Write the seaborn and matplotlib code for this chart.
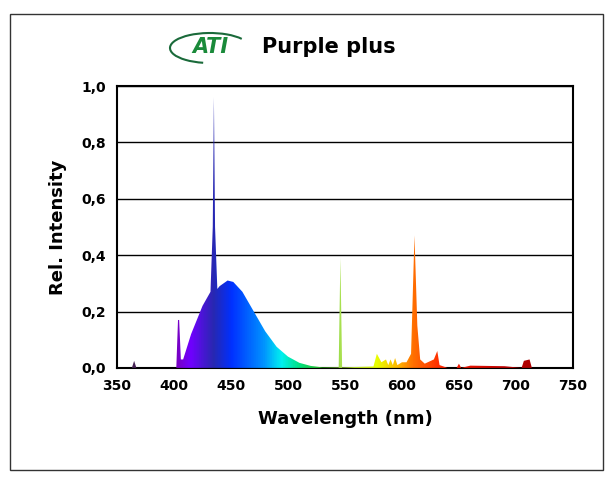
import matplotlib
matplotlib.use("Agg")
import matplotlib.pyplot as plt
import numpy as np
import seaborn as sns
from matplotlib.colors import LinearSegmentedColormap
from matplotlib.patches import Polygon, Rectangle, Arc

WAVELENGTH = [350, 363, 365, 367, 402, 403.5, 404.5, 406, 408, 415, 425, 432, 434, 435, 436, 438,
              440, 447, 452, 460, 470, 480, 490, 500, 510, 520, 530, 544.5, 546, 547.5,
              575, 578, 582, 586, 588, 590, 592, 594, 596, 600, 604, 608, 611, 613.5,
              616, 620, 628, 631, 633, 640, 648, 650, 652, 660, 690, 705, 707, 712, 714, 750]
INTENSITY = [0, 0, 0.025, 0, 0, 0.17, 0.17, 0.03, 0.03, 0.12, 0.22, 0.27, 0.5, 0.96, 0.5, 0.28,
             0.29, 0.31, 0.305, 0.27, 0.2, 0.13, 0.075, 0.04, 0.018, 0.007, 0.002, 0.002, 0.39, 0.002,
             0.005, 0.05, 0.02, 0.03, 0.01, 0.03, 0.01, 0.035, 0.01, 0.02, 0.02, 0.05, 0.47, 0.15,
             0.03, 0.015, 0.03, 0.06, 0.01, 0, 0, 0.015, 0, 0.008, 0.006, 0, 0.025, 0.03, 0, 0]
X_TICKS = [350, 400, 450, 500, 550, 600, 650, 700, 750]
Y_TICKS = [0, 0.2, 0.4, 0.6, 0.8, 1.0]

spec = LinearSegmentedColormap.from_list("spec", [
    (0.0, "#303030"), (0.12, "#7a00b0"), (0.16, "#7000ff"), (0.21, "#2828b0"),
    (0.25, "#0030ff"), (0.32, "#0090ff"), (0.36, "#00f0f0"), (0.40, "#00e080"),
    (0.45, "#30c020"), (0.49, "#a8e050"), (0.57, "#e8ff00"), (0.62, "#ffb000"),
    (0.65, "#ff7000"), (0.72, "#ff2000"), (0.85, "#c00000"), (1.0, "#900000")])

sns.set_style("white")
fig = plt.figure(figsize=(6.16, 4.86), dpi=100)
ax = fig.add_axes([0.19, 0.243, 0.74, 0.58])

sns.lineplot(x=WAVELENGTH, y=INTENSITY, ax=ax, color="#00000000", lw=0)
grad = np.linspace(0, 1, 800).reshape(1, -1)
im = ax.imshow(grad, cmap=spec, extent=[350, 750, 0, 1], aspect="auto", zorder=3)
poly = Polygon(np.column_stack([WAVELENGTH, INTENSITY]), closed=True,
               transform=ax.transData, facecolor="none", edgecolor="none")
ax.add_patch(poly)
im.set_clip_path(poly)

ax.set_xlim(350, 750)
ax.set_ylim(0, 1)
ax.set_xticks(X_TICKS)
ax.set_xticklabels([str(t) for t in X_TICKS], fontweight="bold", fontsize=10, color="black")
ax.set_yticks(Y_TICKS)
ax.set_yticklabels([f"{t:.1f}".replace(".", ",") for t in Y_TICKS], fontweight="bold",
                   fontsize=10, color="black")
ax.yaxis.grid(True, color="black", lw=1)
ax.set_axisbelow(True)
for s in ax.spines.values():
    s.set_color("black")
    s.set_linewidth(1.5)
ax.tick_params(length=0, pad=8)
ax.set_xlabel("Wavelength (nm)", fontweight="bold", fontsize=13, labelpad=12, color="black")
ax.set_ylabel("Rel. Intensity", fontweight="bold", fontsize=13, labelpad=10, color="black")

fig.patches.append(Rectangle((10 / 616, 16 / 486), 593 / 616, 456 / 486,
                             transform=fig.transFigure, fill=False, ec="#333", lw=1))
fig.text(210 / 616, 1 - 47 / 486, "ATI", color="#1a8a3a", fontsize=15,
         fontweight="bold", style="italic", ha="center", va="center")
fig.patches.append(Arc((210 / 616, 1 - 48 / 486), 80 / 616, 30 / 486, theta1=20, theta2=250,
                       transform=fig.transFigure, color="#1a6a3a", lw=1.5))
fig.text(262 / 616, 1 - 47 / 486, "Purple plus", fontsize=15, fontweight="bold",
         ha="left", va="center", color="black")

fig.savefig("out.png", dpi=100)
